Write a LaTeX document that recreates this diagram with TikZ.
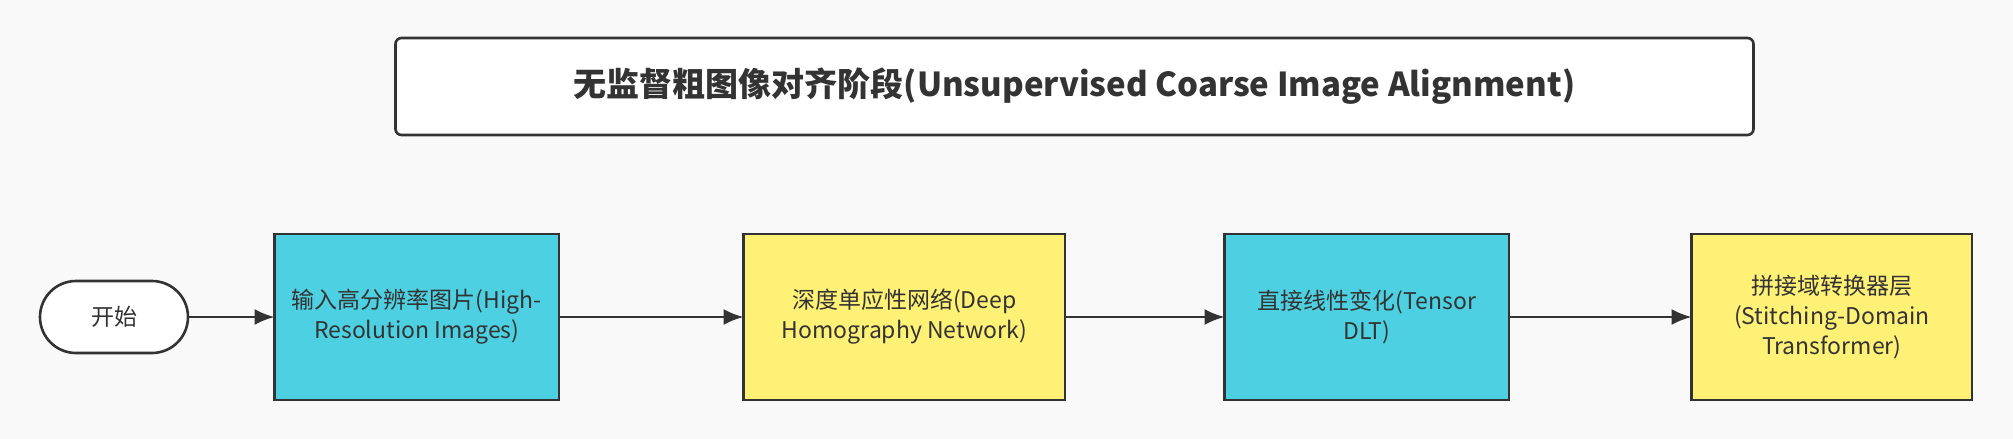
\documentclass[tikz,border=0pt]{standalone}
\usepackage{fontspec}
\setmainfont{Noto Sans CJK SC}
\usepackage{tikz}
\usetikzlibrary{arrows.meta,positioning}
\definecolor{bgcol}{HTML}{F9F9F9}
\definecolor{inkcol}{HTML}{333333}
\definecolor{cyanfill}{HTML}{4DD0E1}
\definecolor{yellowfill}{HTML}{FFF176}
\tikzset{%
  % classes
  base/.style={draw=inkcol, line width=1.3pt, outer sep=0pt, align=center, text=inkcol, font=\fontsize{11.5}{15}\selectfont},
  startnode/.style={base, fill=white, rounded corners=18pt, minimum width=74pt, minimum height=36pt},
  stepcyan/.style={base, fill=cyanfill, minimum height=83pt},
  stepyellow/.style={base, fill=yellowfill, minimum height=83pt},
  titlebox/.style={base, fill=white, rounded corners=3pt, minimum width=679pt, minimum height=48.5pt, font=\fontsize{16.5}{20}\selectfont\bfseries},
  % edge styles
  flow/.style={-{Latex[length=10pt,width=8pt]}, draw=inkcol, line width=1.3pt},
}

\begin{document}
\begin{tikzpicture}
  \fill[bgcol] (0,0) rectangle (1006.5pt,-219.5pt);
  \useasboundingbox (0,0) rectangle (1006.5pt,-219.5pt);

  % Title
  \node[titlebox] (title) at (537.25pt,-43.25pt) {无监督粗图像对齐阶段(Unsupervised Coarse Image Alignment)};

  % Steps
  \node[startnode] (start) at (57pt,-158.5pt) {开始};
  \node[stepcyan, minimum width=142.2pt, right=43.3pt of start] (input) {输入高分辨率图片(High-\\Resolution Images)};
  \node[stepyellow, minimum width=160.7pt, right=92.3pt of input] (dhn) {深度单应性网络(Deep\\Homography Network)};
  \node[stepcyan, minimum width=142.2pt, right=79.8pt of dhn] (dlt) {直接线性变化(Tensor\\DLT)};
  \node[stepyellow, minimum width=140.2pt, right=91.3pt of dlt] (sdt) {拼接域转换器层\\(Stitching-Domain\\Transformer)};

  % Links
  \draw[flow] (start) -- (input);
  \draw[flow] (input) -- (dhn);
  \draw[flow] (dhn) -- (dlt);
  \draw[flow] (dlt) -- (sdt);
\end{tikzpicture}
\end{document}
